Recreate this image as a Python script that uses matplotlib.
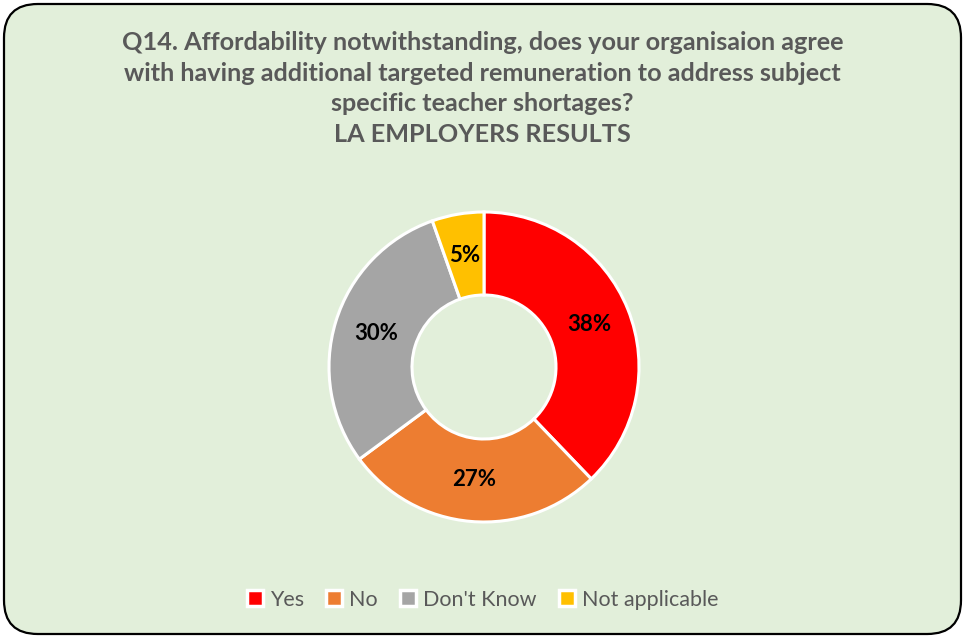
import matplotlib
matplotlib.use("Agg")
import matplotlib.pyplot as plt
from matplotlib.patches import FancyBboxPatch
from matplotlib.lines import Line2D

categories = ["Yes", "No", "Don't Know", "Not applicable"]
shares = [37.8, 27.0, 29.7, 5.4]
colors = ["#FF0000", "#ED7D31", "#A5A5A5", "#FFC000"]

title_lines = [
    "Q14. Affordability notwithstanding, does your organisaion agree",
    "with having additional targeted remuneration to address subject",
    "specific teacher shortages?",
    "LA EMPLOYERS RESULTS",
]

plt.rcParams["font.family"] = ["Lato", "DejaVu Sans"]

W, H = 965, 638
fig = plt.figure(figsize=(W / 100, H / 100), dpi=100)
fig.patch.set_facecolor("white")

# rounded chart-area background
bg = FancyBboxPatch((4 / W, 4 / H), (W - 8) / W, (H - 8) / H,
                    boxstyle="round,pad=0,rounding_size=0.035",
                    transform=fig.transFigure, facecolor="#E2EFDA",
                    edgecolor="black", linewidth=1.6, mutation_aspect=W / H,
                    zorder=-10)
fig.patches.append(bg)

# title
fig.text(0.5, 1 - 31 / H, "\n".join(title_lines), ha="center", va="top",
         fontsize=18.2, fontweight="bold", color="#595959", linespacing=1.4)

# donut
cx, cy, r = 484, H - 367, 155
ax = fig.add_axes([(cx - r) / W, (cy - r) / H, 2 * r / W, 2 * r / H])
ax.set_facecolor("none")
ax.set_zorder(5)
wedges, texts, autotexts = ax.pie(
    shares, colors=colors, startangle=90, counterclock=False,
    radius=1.0, autopct=lambda p: f"{p:.0f}%", pctdistance=0.73,
    wedgeprops=dict(width=1 - 72 / 155, edgecolor="white", linewidth=2.2),
    textprops=dict(fontsize=16, fontweight="bold", color="black"),
)
ax.set_xlim(-1.0, 1.0)
ax.set_ylim(-1.0, 1.0)
ax.set_aspect("equal")
ax.axis("off")

# legend
handles = [Line2D([], [], marker="s", linestyle="none", markersize=11,
                  markerfacecolor=c, markeredgecolor="white", markeredgewidth=2.5)
           for c in colors]
leg = fig.legend(handles, categories, loc="center", bbox_to_anchor=(0.5, 1 - 600 / H),
                 ncol=4, frameon=False, fontsize=15.5, handlelength=0.8,
                 handletextpad=0.3, columnspacing=1.0, labelcolor="#595959")

fig.savefig("out.png", dpi=100, facecolor=fig.get_facecolor())
